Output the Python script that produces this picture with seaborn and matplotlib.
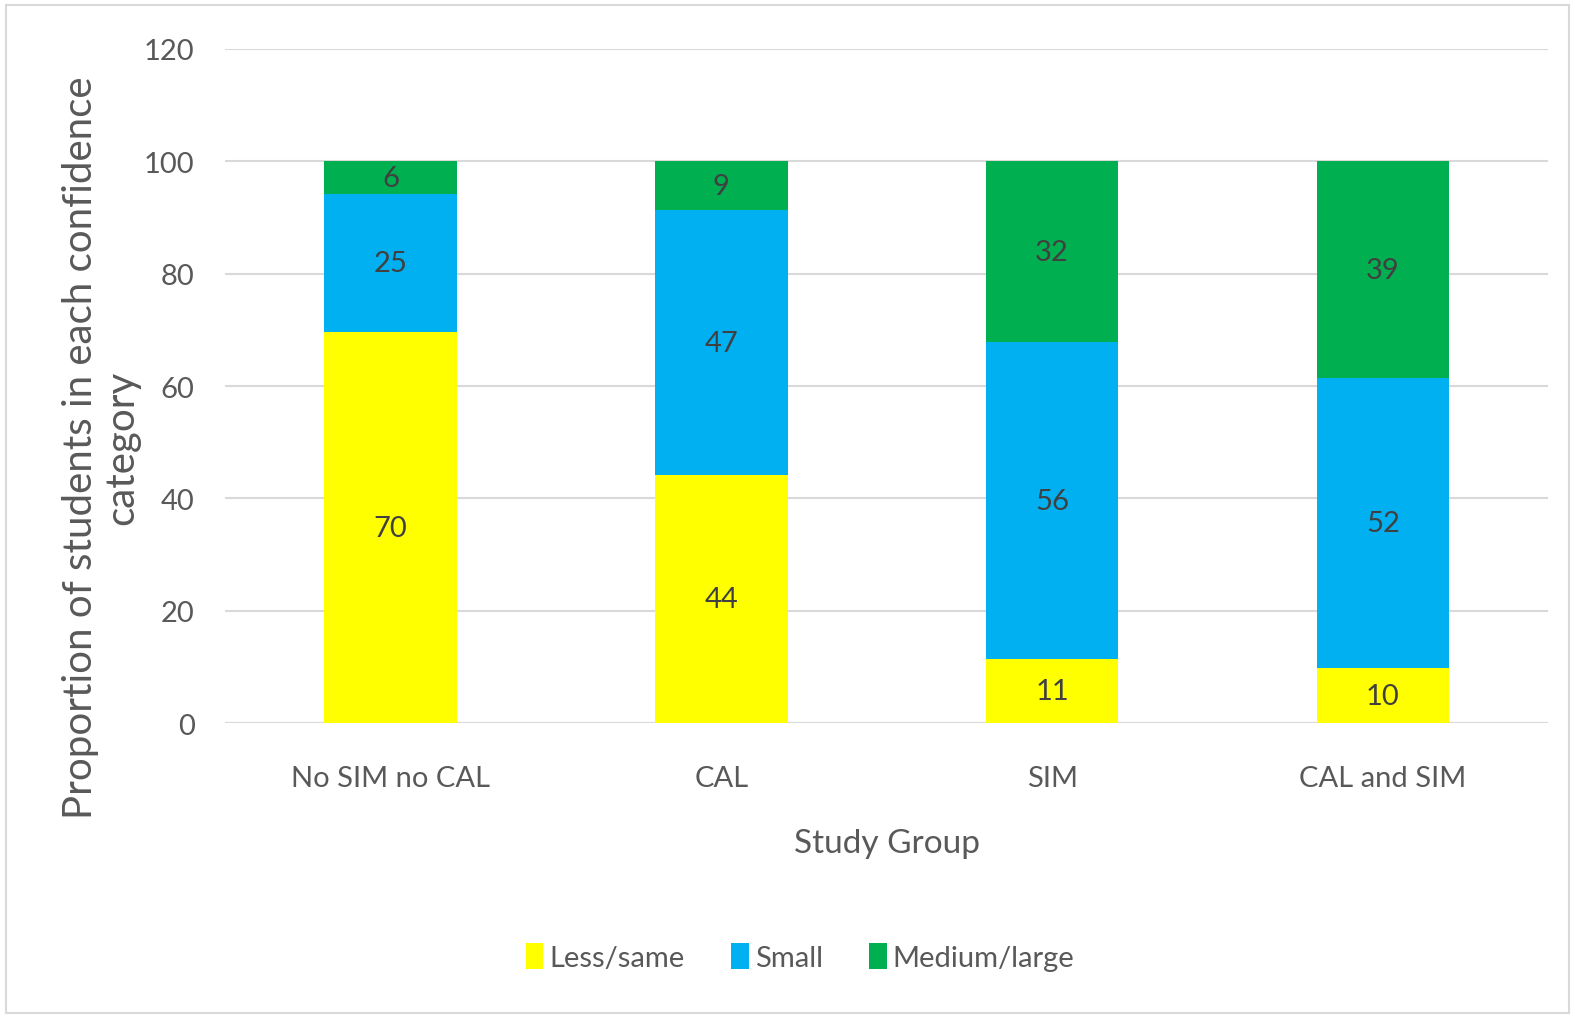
import matplotlib
matplotlib.use("Agg")
import matplotlib.pyplot as plt
import seaborn as sns
import pandas as pd
import numpy as np
from matplotlib.patches import Patch, Rectangle

groups = ["No SIM no CAL", "CAL", "SIM", "CAL and SIM"]
less_same = [69.6, 44.1, 11.4, 9.8]
small = [24.6, 47.3, 56.4, 51.6]
medium_large = [5.8, 8.6, 32.2, 38.6]
series_names = ["Less/same", "Small", "Medium/large"]
colors = ["#FFFF00", "#00B0F0", "#00B050"]
yticks = [0, 20, 40, 60, 80, 100, 120]

sns.set_theme(style="white")
plt.rcParams["font.family"] = ["Lato", "DejaVu Sans"]

df = pd.DataFrame({"group": groups, "Less/same": less_same,
                   "Small": small, "Medium/large": medium_large})
df["c1"] = df["Less/same"]
df["c2"] = df["c1"] + df["Small"]
df["c3"] = df["c2"] + df["Medium/large"]

fig = plt.figure(figsize=(15.75, 10.2), dpi=100)
ax = fig.add_axes([0.143, 0.290, 0.840, 0.661])

for col, c in zip(["c3", "c2", "c1"], colors[::-1]):
    sns.barplot(data=df, x="group", y=col, color=c, width=0.4,
                saturation=1, ax=ax, linewidth=0)

ax.set_ylim(0, 120)
ax.set_yticks(yticks)
ax.set_yticklabels([str(t) for t in yticks])
ax.grid(axis="y", color="#D9D9D9", linewidth=1.5)
ax.set_axisbelow(True)
for s in ax.spines.values():
    s.set_visible(False)
ax.axhline(0, color="#D9D9D9", linewidth=1.5, zorder=0.5)
ax.tick_params(axis="both", length=0, labelsize=21, labelcolor="#595959")
ax.tick_params(axis="x", pad=30)
ax.tick_params(axis="y", pad=22)

ax.set_xlabel("Study Group", fontsize=24, color="#595959", labelpad=27)
ax.set_ylabel("Proportion of students in each confidence\ncategory",
              fontsize=29, color="#595959", linespacing=1.15)
ax.yaxis.set_label_coords(-0.064, 0.41)

for i in range(len(groups)):
    bottoms = [0, df["c1"][i], df["c2"][i]]
    tops = [df["c1"][i], df["c2"][i], df["c3"][i]]
    vals = [less_same[i], small[i], medium_large[i]]
    for b, t, v in zip(bottoms, tops, vals):
        ax.text(i, (b + t) / 2, f"{v:.0f}", ha="center", va="center",
                fontsize=21, color="#404040")

handles = [Patch(facecolor=c, edgecolor="none") for c in colors]
fig.legend(handles, series_names, loc="center", bbox_to_anchor=(0.508, 0.061),
           ncol=3, frameon=False, fontsize=21, labelcolor="#595959",
           handlelength=0.6, handleheight=1.0, handletextpad=0.2,
           columnspacing=1.6)

fig.patches.append(Rectangle((0.004, 0.006), 0.992, 0.988, transform=fig.transFigure,
                             fill=False, edgecolor="#D9D9D9", linewidth=1.5))

fig.savefig("out.png", dpi=100)
